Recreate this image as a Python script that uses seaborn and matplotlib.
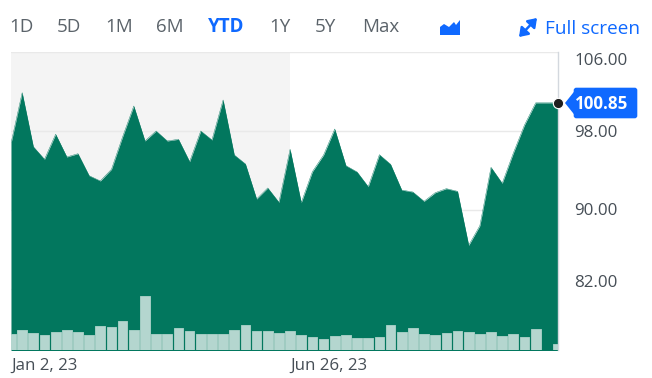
import numpy as np
import pandas as pd
import seaborn as sns
import matplotlib.pyplot as plt
from matplotlib.patches import Polygon, FancyBboxPatch, FancyArrowPatch

# values
prices = [96.75, 101.88, 96.41, 95.13, 97.67, 95.37, 95.70, 93.47, 92.94, 94.12,
          97.42, 100.53, 96.99, 98.00, 96.99, 97.16, 94.89, 98.00, 97.09, 101.14,
          95.57, 94.66, 91.11, 92.23, 90.78, 96.15, 90.74, 93.88, 95.57, 98.20,
          94.49, 93.85, 92.36, 95.60, 94.63, 92.02, 91.82, 90.88, 91.75, 92.16,
          91.89, 86.42, 88.41, 94.32, 92.70, 95.77, 98.61, 100.85, 100.85, 100.85]
volumes = [1.57, 1.97, 1.73, 1.53, 1.83, 1.97, 1.77, 1.47, 2.40, 2.27,
           2.93, 1.97, 5.43, 1.57, 1.57, 2.23, 1.93, 1.57, 1.57, 1.63,
           1.97, 2.53, 1.90, 1.90, 1.75, 1.95, 1.50, 1.35, 1.10, 1.37,
           1.53, 1.17, 1.17, 1.30, 2.47, 1.82, 2.17, 1.60, 1.53, 1.73,
           1.87, 1.77, 1.63, 1.77, 1.40, 1.60, 1.27, 2.07, 0.0, 0.57]
range_labels = ['1D', '5D', '1M', '6M', 'YTD', '1Y', '5Y', 'Max']
range_x = [9.5, 57, 105, 156, 208, 269, 315, 362]
y_ticks = [106, 98, 90, 82]
y_labels = ['106.00', '98.00', '90.00', '82.00']
y_label_shift = [9, 2, 1, -6]  # px down from the gridline
x_ticks = [0, 25]
x_labels = ['Jan 2, 23', 'Jun 26, 23']
last_label = '100.85'

W, H = 652, 378
GREEN = '#02775e'
BLUE = '#0f69ff'
GREY = '#464e56'

sns.set_theme(style='white')
plt.rcParams['font.family'] = ['Open Sans', 'DejaVu Sans']

df = pd.DataFrame({'i': np.arange(len(prices)), 'price': prices, 'volume': volumes})

fig = plt.figure(figsize=(W / 100, H / 100), dpi=100)
ax = fig.add_axes([11 / W, 1 - 350 / H, 547 / W, 298 / H])


def fx(px):
    return px / W


def fy(py):
    return 1 - py / H


# price area
ax.axvspan(0, 25, color='#f4f4f4', lw=0, zorder=0)
sns.lineplot(data=df, x='i', y='price', ax=ax, color=GREEN, lw=0.3, zorder=3)
ax.fill_between(df['i'], df['price'], 70, color=GREEN, lw=0, zorder=2)
ax.set_xlim(0, 49)
ax.set_ylim(75.82, 106)
ax.set_xticks(x_ticks)
ax.set_xticklabels(x_labels, ha='left', color=GREY, fontsize=12.2)
ax.set_yticks(y_ticks)
ax.set_yticklabels([])
ax.yaxis.tick_right()
ax.tick_params(axis='both', length=0)
ax.tick_params(axis='x', pad=5.5)
ax.grid(axis='y', color='#e9e9e9', lw=1, zorder=1)
ax.set_axisbelow(True)
ax.set_xlabel('')
ax.set_ylabel('')
for name in ['left', 'top', 'bottom']:
    ax.spines[name].set_visible(False)
ax.spines['right'].set_color('#d3d8de')
ax.spines['right'].set_linewidth(1)

# volume bars
ax_vol = ax.twinx()
sns.barplot(data=df, x='i', y='volume', ax=ax_vol, native_scale=True, width=0.87,
            color='#b4d6cf', saturation=1, edgecolor='#a2cdc3', linewidth=0.7, zorder=4)
ax_vol.set_xlim(0, 49)
ax_vol.set_ylim(0, 29.8)
ax_vol.axis('off')

# last price dot
ax_top = ax.twinx()
sns.scatterplot(x=[df['i'].iloc[-1]], y=[prices[-1]], ax=ax_top, color='#1f1f1f', s=55,
                edgecolor='white', linewidth=0.8, clip_on=False, zorder=10, legend=False)
ax_top.set_xlim(0, 49)
ax_top.set_ylim(75.82, 106)
ax_top.axis('off')

# y labels sit a little off their gridlines, like the original
for v, lab, shift in zip(y_ticks, y_labels, y_label_shift):
    ax.annotate(lab, xy=(1, v), xycoords=('axes fraction', 'data'), xytext=(16 * 0.72, -shift * 0.72),
                textcoords='offset points', ha='left', va='center', color=GREY, fontsize=12.2)

# price tag
tag_y = 103
fig.add_artist(Polygon([(fx(565), fy(tag_y)), (fx(577), fy(tag_y - 15)), (fx(577), fy(tag_y + 15))],
                       closed=True, color=BLUE, lw=0, transform=fig.transFigure))
fig.add_artist(FancyBboxPatch((fx(575), fy(tag_y + 14)), fx(61), 28 / H, transform=fig.transFigure,
                              boxstyle='round,pad=0.002,rounding_size=0.004', mutation_aspect=W / H,
                              color=BLUE, lw=0))
fig.text(fx(602), fy(tag_y + 1), last_label, color='white', fontsize=12.2, fontweight='bold',
         ha='center', va='center')

# range selector
for lab, x in zip(range_labels, range_x):
    active = lab == 'YTD'
    fig.text(fx(x), fy(27.5), lab, ha='left', va='center', fontsize=13.5,
             color=BLUE if active else '#5b636a', fontweight='bold' if active else 'normal')

# chart type icon and full screen link
icon = [(440, 35), (440, 27), (444, 24), (449, 27), (454, 22), (456, 25), (460, 20), (460, 35)]
fig.add_artist(Polygon([(fx(a), fy(b)) for a, b in icon], closed=True, color=BLUE, lw=0,
                       transform=fig.transFigure))
fig.add_artist(FancyArrowPatch((fx(519), fy(37)), (fx(537), fy(18)), transform=fig.transFigure,
                               arrowstyle='<|-|>,head_length=5,head_width=3.5', color=BLUE, lw=1.8,
                               shrinkA=0, shrinkB=0))
fig.text(fx(545), fy(28.5), 'Full screen', ha='left', va='center', fontsize=13.7, color=BLUE)

fig.savefig('out.png', dpi=100)
plt.close(fig)
